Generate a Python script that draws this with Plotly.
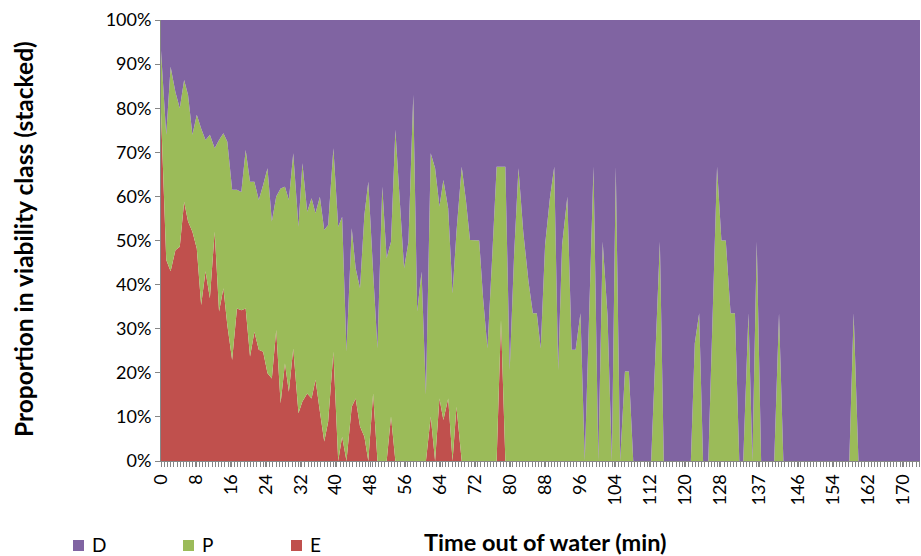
import plotly.graph_objects as go

# Time out of water (min) at each digitised vertex
time_min = [0.0, 1.2, 2.2, 3.3, 4.3, 5.3, 6.2, 7.2, 8.2, 9.2, 10.2, 11.2, 12.3, 13.3, 14.3, 15.2,
            16.3, 17.4, 18.4, 19.4, 20.4, 21.4, 22.4, 23.4, 24.4, 25.4, 26.4, 27.4, 28.4, 29.3,
            30.3, 31.5, 32.4, 33.5, 34.5, 35.4, 36.4, 37.4, 38.3, 39.5, 40.6, 41.5, 42.5, 43.7,
            44.6, 45.6, 46.6, 47.5, 48.6, 49.6, 50.7, 51.7, 52.7, 53.7, 54.7, 55.7, 56.7, 57.8,
            58.7, 59.7, 60.7, 61.8, 62.8, 63.8, 64.7, 65.8, 66.8, 67.7, 68.9, 69.9, 70.8, 72.9,
            73.8, 74.8, 75.9, 76.9, 77.9, 78.9, 79.9, 80.9, 81.9, 83.0, 84.2, 85.2, 86.1, 87.0,
            88.0, 89.1, 90.1, 91.0, 91.9, 93.1, 94.1, 95.0, 96.1, 97.1, 99.1, 100.2, 101.2, 102.3,
            103.3, 104.2, 105.2, 106.3, 107.2, 108.2, 112.3, 114.3, 115.2, 121.4, 122.3, 123.3,
            124.2, 125.4, 127.4, 128.4, 129.4, 130.5, 131.5, 132.5, 133.4, 134.6, 135.5, 136.5,
            137.5, 140.5, 141.6, 142.6, 157.7, 158.7, 159.8, 173.9]

# Proportion (%) in class E (bottom)
E_pct = [79.0, 45.6, 43.0, 47.8, 48.6, 58.8, 54.3, 52.0, 48.2, 35.4, 43.0, 36.9, 52.0, 33.9, 39.2, 30.8,
         22.9, 34.6, 34.2, 34.6, 23.7, 29.3, 25.2, 24.8, 19.9, 18.7, 29.7, 13.1, 22.1, 15.7,
         25.5, 10.8, 13.5, 15.3, 14.2, 18.4, 11.2, 4.4, 8.9, 24.8, 0, 5.5, 0, 12.3,
         14.2, 7.8, 5.5, 0, 15.3, 0, 0, 0, 10.1, 0, 0, 0, 0, 0,
         0, 0, 0, 10.1, 0, 14.2, 9.3, 14.2, 0, 12.3, 0, 0, 0, 0,
         0, 0, 0, 0, 32.0, 0, 0, 0, 0, 0, 0, 0, 0, 0,
         0, 0, 0, 0, 0, 0, 0, 0, 0, 0, 0, 0, 0, 0,
         0, 0, 0, 0, 0, 0, 0, 0, 0, 0, 0, 0,
         0, 0, 0, 0, 0, 0, 0, 0, 0, 0, 0, 0,
         0, 0, 0, 0, 0, 0, 0, 0]

# Proportion (%) in class P (middle)
P_pct = [14.0, 28.4, 46.4, 35.9, 31.4, 27.6, 28.7, 22.0, 30.3, 40.0, 29.8, 37.1, 18.9, 38.9, 35.1, 41.6,
         38.6, 26.9, 26.8, 35.9, 39.6, 34.0, 34.0, 37.8, 46.5, 35.6, 30.3, 48.7, 40.1, 43.5,
         44.3, 42.3, 54.0, 41.2, 45.4, 37.8, 48.7, 48.0, 44.6, 46.1, 53.1, 49.9, 24.8, 40.5,
         29.5, 31.4, 50.3, 63.3, 27.6, 25.5, 62.2, 46.0, 39.6, 75.1, 59.2, 43.7, 49.7, 83.0,
         33.9, 42.9, 15.0, 59.7, 66.4, 43.5, 54.4, 43.1, 38.0, 39.7, 66.7, 58.8, 50.1, 50.0,
         36.9, 25.5, 46.7, 66.7, 34.7, 66.7, 20.6, 46.7, 66.4, 52.0, 40.7, 33.5, 33.5, 25.5,
         49.0, 59.6, 66.7, 20.6, 49.0, 59.9, 25.2, 25.2, 33.5, 0, 66.7, 0, 49.7, 33.1,
         0, 66.7, 0, 20.3, 20.3, 0, 0, 49.7, 0, 0, 26.7, 33.5,
         0, 0, 66.7, 50.0, 50.0, 33.5, 33.5, 0, 0, 33.5, 0, 49.7,
         0, 0, 33.5, 0, 0, 33.5, 0, 0]

# Proportion (%) in class D (top)
D_pct = [7.0, 26.0, 10.6, 16.3, 20.0, 13.6, 17.0, 26.0, 21.5, 24.6, 27.2, 26.0, 29.1, 27.2, 25.7, 27.6,
         38.5, 38.5, 39.0, 29.5, 36.7, 36.7, 40.8, 37.4, 33.6, 45.7, 40.0, 38.2, 37.8, 40.8,
         30.2, 46.9, 32.5, 43.5, 40.4, 43.8, 40.1, 47.6, 46.5, 29.1, 46.9, 44.6, 75.2, 47.2,
         56.3, 60.8, 44.2, 36.7, 57.1, 74.5, 37.8, 54.0, 50.3, 24.9, 40.8, 56.3, 50.3, 17.0,
         66.1, 57.1, 85.0, 30.2, 33.6, 42.3, 36.3, 42.7, 62.0, 48.0, 33.3, 41.2, 49.9, 50.0,
         63.1, 74.5, 53.3, 33.3, 33.3, 33.3, 79.4, 53.3, 33.6, 48.0, 59.3, 66.5, 66.5, 74.5,
         51.0, 40.4, 33.3, 79.4, 51.0, 40.1, 74.8, 74.8, 66.5, 100, 33.3, 100, 50.3, 66.9,
         100, 33.3, 100, 79.7, 79.7, 100, 100, 50.3, 100, 100, 73.3, 66.5,
         100, 100, 33.3, 50.0, 50.0, 66.5, 66.5, 100, 100, 66.5, 100, 50.3,
         100, 100, 66.5, 100, 100, 66.5, 100, 100]

tick_positions = [0, 8, 16, 24, 32, 40, 48, 56, 64, 72, 80, 88, 96, 104, 112, 120, 128, 137, 146, 154, 162, 170]
tick_labels = [str(v) for v in tick_positions]
y_ticks = [0, 10, 20, 30, 40, 50, 60, 70, 80, 90, 100]
y_labels = [f"{v}%" for v in y_ticks]
legend_names = ["D", "P", "E"]

COL_D = "#8064A2"
COL_P = "#9BBB59"
COL_E = "#C0504D"
colors = {"D": COL_D, "P": COL_P, "E": COL_E}

fig = go.Figure()
for name, vals in [("E", E_pct), ("P", P_pct), ("D", D_pct)]:
    fig.add_trace(go.Scatter(x=time_min, y=vals, name=name, mode="none", stackgroup="one",
                             fillcolor=colors[name], showlegend=False, hoverinfo="x+y+name"))

# plot-area geometry in pixels (for placing the hand-made legend and titles)
W, H = 921, 556
L, R, T, B = 161, 1, 20, 95
PW, PH = W - L - R, H - T - B


def px(xpix):
    return (xpix - L) / PW


def py(ypix):
    return (H - B - ypix) / PH


shapes = []
annotations = []
legend_sq_left = [73, 183, 291]
for name, x0 in zip(legend_names, legend_sq_left):
    shapes.append(dict(type="rect", xref="paper", yref="paper",
                       x0=px(x0), x1=px(x0 + 11), y0=py(551), y1=py(540),
                       fillcolor=colors[name], line=dict(width=0)))
    annotations.append(dict(text=name, xref="paper", yref="paper", x=px(x0 + 17), y=py(544),
                            xanchor="left", yanchor="middle", showarrow=False,
                            font=dict(family="Lato, sans-serif", size=19, color="black")))

annotations.append(dict(text="<b>Proportion in viability class (stacked)</b>", xref="paper", yref="paper",
                        x=px(23), y=py(239), textangle=-90, showarrow=False,
                        xanchor="center", yanchor="middle",
                        font=dict(family="Lato, sans-serif", size=24.5, color="black")))
annotations.append(dict(text="<b>Time out of water (min)</b>", xref="paper", yref="paper",
                        x=px(545), y=py(542), showarrow=False, xanchor="center", yanchor="middle",
                        font=dict(family="Lato, sans-serif", size=23.5, color="black")))

axis_col = "#868686"
fig.update_layout(
    width=W, height=H,
    margin=dict(l=L, r=R, t=T, b=B),
    plot_bgcolor="white", paper_bgcolor="white",
    font=dict(family="Lato, sans-serif", size=18, color="black"),
    showlegend=False,
    xaxis=dict(range=[0, 173.9], tickmode="array", tickvals=tick_positions, ticktext=tick_labels,
               tickangle=-90, ticks="outside", ticklen=5, tickcolor=axis_col, showgrid=False,
               showline=True, linecolor=axis_col, linewidth=1, zeroline=False, automargin=False,
               tickfont=dict(family="Lato, sans-serif", size=18, color="black"),
               minor=dict(tickmode="linear", tick0=0, dtick=0.733, ticks="outside", ticklen=5,
                          tickcolor=axis_col, showgrid=False)),
    yaxis=dict(range=[0, 100], tickmode="array", tickvals=y_ticks, ticktext=y_labels,
               ticks="outside", ticklen=5, tickcolor=axis_col, showgrid=False, automargin=False,
               showline=True, linecolor=axis_col, linewidth=1, zeroline=False,
               tickfont=dict(family="Lato, sans-serif", size=18, color="black")),
    shapes=shapes,
    annotations=annotations,
)

fig.write_html("out.html", config={"displayModeBar": False},
               post_script="document.body.style.margin='0';document.body.style.overflow='hidden';")
